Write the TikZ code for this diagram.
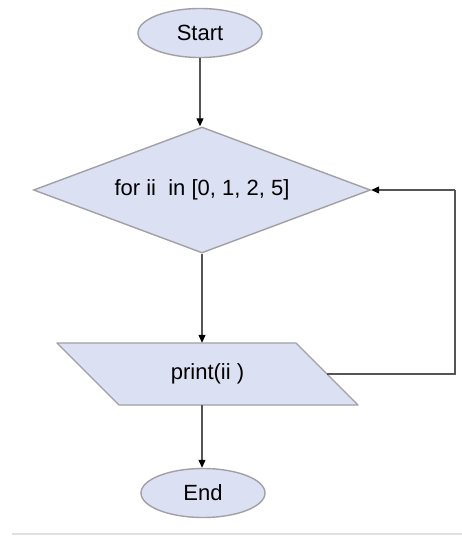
\documentclass[tikz,border=0pt]{standalone}
\usepackage{fontspec}
\setmainfont{Liberation Sans}
\usetikzlibrary{shapes.geometric,arrows.meta,calc}
\definecolor{boxfill}{RGB}{220,224,243}
\definecolor{boxline}{RGB}{160,160,165}
\definecolor{wire}{RGB}{85,85,85}
\tikzset{
  label font/.style={font=\fontsize{22}{26}\selectfont},
  terminal/.style={ellipse, draw=boxline, fill=boxfill, line width=1.4pt,
    minimum width=124pt, minimum height=49pt, inner sep=0pt, label font},
  decision/.style={diamond, aspect=2.67, draw=boxline, fill=boxfill, line width=1.4pt,
    minimum width=337pt, minimum height=126pt, inner sep=0pt, label font},
  ioshape/.style={draw=boxline, fill=boxfill, line width=1.4pt, line join=round},
  iotext/.style={minimum width=239pt, minimum height=62pt, inner sep=0pt, label font},
  flow/.style={draw=wire, line width=1.3pt, -{Triangle[length=8pt,width=7pt,color=black]}},
  plainflow/.style={draw=wire, line width=1.3pt}
}
\begin{document}
\begin{tikzpicture}[x=1pt,y=-1pt]
  \useasboundingbox (0,0) rectangle (462,536);
  \fill[white] (0,0) rectangle (462,536);

  % output parallelogram, slanting down to the right
  \coordinate (oc) at (207.5,374);
  \draw[ioshape] ($(oc)+(-150.5,-31)$) -- ($(oc)+(88.5,-31)$)
    -- ($(oc)+(150.5,31)$) -- ($(oc)+(-88.5,31)$) -- cycle;

  \node[terminal] (start) at (200,33) {Start};
  \node[decision] (loop) at (202,190) {for ii~~in [0, 1, 2, 5]};
  \node[iotext] (out) at (oc) {print(ii )};
  \node[terminal] (end) at (203,493) {End};
  \coordinate (side) at ($(oc)+(119.5,0)$);
  \coordinate (back) at (455,190);

  \draw[flow] (start.south |- start.south) -- (start.south |- loop.north);
  \draw[flow] (loop.south) -- (loop.south |- out.north);
  \draw[flow] (loop.south |- out.south) -- (loop.south |- end.north);
  \draw[plainflow] (side) -- (side -| back) -- (back);
  \draw[flow] (back) -- (loop.east);

  % faint rule along the bottom edge
  \draw[color=black!12, line width=1.5pt] (12,534) -- (462,534);
\end{tikzpicture}
\end{document}
